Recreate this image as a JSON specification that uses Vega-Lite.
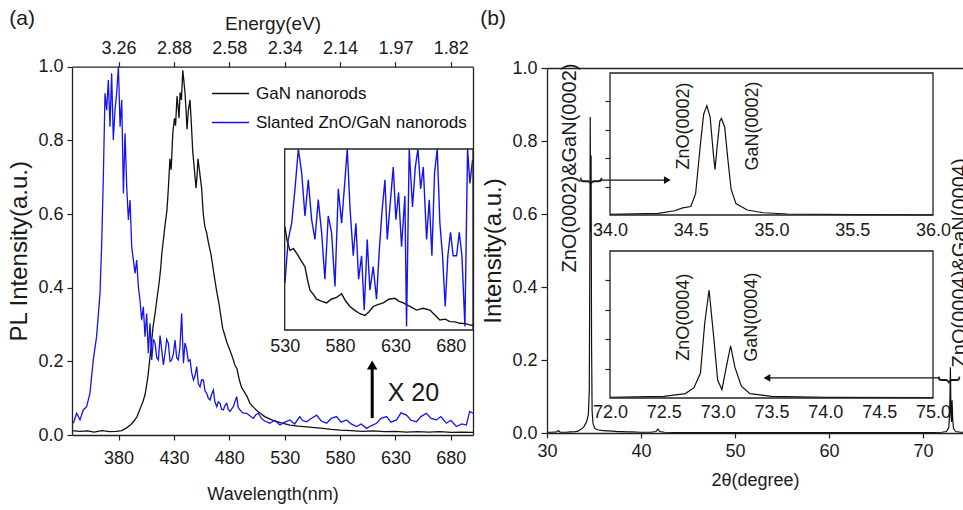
{
"$schema":"https://vega.github.io/schema/vega-lite/v6.json",
"width":963,"height":510,"autosize":{"type":"none"},"padding":0,"background":"white",
"config":{"view":{"stroke":null},"font":"Liberation Sans",
 "axis":{"labelFont":"Liberation Sans","titleFont":"Liberation Sans","labelFontSize":18,"titleFontSize":18,"titleFontWeight":"normal","labelColor":"#1a1a1a","titleColor":"#1a1a1a","domainColor":"#222","tickColor":"#222","domainWidth":1.3,"tickWidth":1.2,"grid":false,"tickSize":5,"labelPadding":4,"labelFlush":false,"labelOverlap":false},
 "text":{"font":"Liberation Sans","color":"#1a1a1a"}},
"datasets":{
"one":[{}],
"pla":[
{"s":"GaN nanorods","wl":338,"pl":0.012},{"s":"GaN nanorods","wl":345,"pl":0.01},{"s":"GaN nanorods","wl":352,"pl":0.011},{"s":"GaN nanorods","wl":358,"pl":0.008},{"s":"GaN nanorods","wl":365,"pl":0.012},{"s":"GaN nanorods","wl":372,"pl":0.009},{"s":"GaN nanorods","wl":378,"pl":0.01},{"s":"GaN nanorods","wl":383,"pl":0.012},{"s":"GaN nanorods","wl":387.6,"pl":0.02},{"s":"GaN nanorods","wl":391,"pl":0.028},{"s":"GaN nanorods","wl":394,"pl":0.038},{"s":"GaN nanorods","wl":396.7,"pl":0.05},{"s":"GaN nanorods","wl":400,"pl":0.075},{"s":"GaN nanorods","wl":402,"pl":0.09},{"s":"GaN nanorods","wl":404,"pl":0.11},{"s":"GaN nanorods","wl":406.6,"pl":0.16},{"s":"GaN nanorods","wl":408,"pl":0.2},{"s":"GaN nanorods","wl":409.5,"pl":0.24},{"s":"GaN nanorods","wl":411,"pl":0.29},{"s":"GaN nanorods","wl":413,"pl":0.33},{"s":"GaN nanorods","wl":414.7,"pl":0.37},{"s":"GaN nanorods","wl":416.5,"pl":0.41},{"s":"GaN nanorods","wl":418,"pl":0.45},{"s":"GaN nanorods","wl":419,"pl":0.49},{"s":"GaN nanorods","wl":420.5,"pl":0.53},{"s":"GaN nanorods","wl":422,"pl":0.57},{"s":"GaN nanorods","wl":423.7,"pl":0.61},{"s":"GaN nanorods","wl":425,"pl":0.67},{"s":"GaN nanorods","wl":426.4,"pl":0.75},{"s":"GaN nanorods","wl":427.5,"pl":0.72},{"s":"GaN nanorods","wl":429,"pl":0.82},{"s":"GaN nanorods","wl":430.5,"pl":0.86},{"s":"GaN nanorods","wl":431.5,"pl":0.84},{"s":"GaN nanorods","wl":432.8,"pl":0.92},{"s":"GaN nanorods","wl":433.8,"pl":0.89},{"s":"GaN nanorods","wl":434.6,"pl":0.86},{"s":"GaN nanorods","wl":435.6,"pl":0.93},{"s":"GaN nanorods","wl":436.8,"pl":0.91},{"s":"GaN nanorods","wl":438,"pl":0.99},{"s":"GaN nanorods","wl":439,"pl":0.96},{"s":"GaN nanorods","wl":440,"pl":0.93},{"s":"GaN nanorods","wl":441,"pl":0.88},{"s":"GaN nanorods","wl":441.8,"pl":0.83},{"s":"GaN nanorods","wl":443,"pl":0.88},{"s":"GaN nanorods","wl":444.5,"pl":0.91},{"s":"GaN nanorods","wl":445.5,"pl":0.86},{"s":"GaN nanorods","wl":447,"pl":0.77},{"s":"GaN nanorods","wl":448.5,"pl":0.72},{"s":"GaN nanorods","wl":450,"pl":0.67},{"s":"GaN nanorods","wl":451,"pl":0.71},{"s":"GaN nanorods","wl":451.7,"pl":0.75},{"s":"GaN nanorods","wl":453,"pl":0.72},{"s":"GaN nanorods","wl":455,"pl":0.67},{"s":"GaN nanorods","wl":456.5,"pl":0.6},{"s":"GaN nanorods","wl":458,"pl":0.565},{"s":"GaN nanorods","wl":459.5,"pl":0.55},{"s":"GaN nanorods","wl":460.7,"pl":0.53},{"s":"GaN nanorods","wl":462,"pl":0.51},{"s":"GaN nanorods","wl":463.5,"pl":0.49},{"s":"GaN nanorods","wl":465,"pl":0.46},{"s":"GaN nanorods","wl":467,"pl":0.42},{"s":"GaN nanorods","wl":468.9,"pl":0.385},{"s":"GaN nanorods","wl":470.5,"pl":0.36},{"s":"GaN nanorods","wl":472,"pl":0.33},{"s":"GaN nanorods","wl":474,"pl":0.29},{"s":"GaN nanorods","wl":476,"pl":0.27},{"s":"GaN nanorods","wl":478,"pl":0.25},{"s":"GaN nanorods","wl":480.6,"pl":0.23},{"s":"GaN nanorods","wl":483,"pl":0.21},{"s":"GaN nanorods","wl":485,"pl":0.19},{"s":"GaN nanorods","wl":486.9,"pl":0.18},{"s":"GaN nanorods","wl":489,"pl":0.15},{"s":"GaN nanorods","wl":491,"pl":0.13},{"s":"GaN nanorods","wl":493,"pl":0.12},{"s":"GaN nanorods","wl":496,"pl":0.105},{"s":"GaN nanorods","wl":498.6,"pl":0.086},{"s":"GaN nanorods","wl":502,"pl":0.075},{"s":"GaN nanorods","wl":505,"pl":0.066},{"s":"GaN nanorods","wl":507.7,"pl":0.06},{"s":"GaN nanorods","wl":512,"pl":0.05},{"s":"GaN nanorods","wl":519.4,"pl":0.04},{"s":"GaN nanorods","wl":527,"pl":0.033},{"s":"GaN nanorods","wl":534.7,"pl":0.027},{"s":"GaN nanorods","wl":542,"pl":0.024},{"s":"GaN nanorods","wl":550,"pl":0.022},{"s":"GaN nanorods","wl":557,"pl":0.02},{"s":"GaN nanorods","wl":564.5,"pl":0.018},{"s":"GaN nanorods","wl":572,"pl":0.015},{"s":"GaN nanorods","wl":580,"pl":0.013},{"s":"GaN nanorods","wl":590,"pl":0.012},{"s":"GaN nanorods","wl":600,"pl":0.01},{"s":"GaN nanorods","wl":610,"pl":0.011},{"s":"GaN nanorods","wl":620,"pl":0.009},{"s":"GaN nanorods","wl":630,"pl":0.01},{"s":"GaN nanorods","wl":640,"pl":0.008},{"s":"GaN nanorods","wl":650,"pl":0.009},{"s":"GaN nanorods","wl":660,"pl":0.008},{"s":"GaN nanorods","wl":670,"pl":0.009},{"s":"GaN nanorods","wl":680,"pl":0.007},{"s":"GaN nanorods","wl":690,"pl":0.008},{"s":"GaN nanorods","wl":700,"pl":0.007},
{"s":"Slanted ZnO/GaN nanorods","wl":339.2,"pl":0.032},{"s":"Slanted ZnO/GaN nanorods","wl":342.2,"pl":0.059},{"s":"Slanted ZnO/GaN nanorods","wl":345.2,"pl":0.041},{"s":"Slanted ZnO/GaN nanorods","wl":348.2,"pl":0.068},{"s":"Slanted ZnO/GaN nanorods","wl":351.2,"pl":0.077},{"s":"Slanted ZnO/GaN nanorods","wl":354.2,"pl":0.113},{"s":"Slanted ZnO/GaN nanorods","wl":357.2,"pl":0.204},{"s":"Slanted ZnO/GaN nanorods","wl":360.2,"pl":0.267},{"s":"Slanted ZnO/GaN nanorods","wl":363.3,"pl":0.385},{"s":"Slanted ZnO/GaN nanorods","wl":364.8,"pl":0.52},{"s":"Slanted ZnO/GaN nanorods","wl":366.3,"pl":0.7},{"s":"Slanted ZnO/GaN nanorods","wl":367.8,"pl":0.928},{"s":"Slanted ZnO/GaN nanorods","wl":369.3,"pl":0.882},{"s":"Slanted ZnO/GaN nanorods","wl":370.8,"pl":0.964},{"s":"Slanted ZnO/GaN nanorods","wl":372.3,"pl":0.837},{"s":"Slanted ZnO/GaN nanorods","wl":373.8,"pl":0.982},{"s":"Slanted ZnO/GaN nanorods","wl":375.3,"pl":0.801},{"s":"Slanted ZnO/GaN nanorods","wl":376.8,"pl":0.882},{"s":"Slanted ZnO/GaN nanorods","wl":378.3,"pl":0.928},{"s":"Slanted ZnO/GaN nanorods","wl":379.9,"pl":1.0},{"s":"Slanted ZnO/GaN nanorods","wl":381.4,"pl":0.837},{"s":"Slanted ZnO/GaN nanorods","wl":382.9,"pl":0.91},{"s":"Slanted ZnO/GaN nanorods","wl":384.4,"pl":0.656},{"s":"Slanted ZnO/GaN nanorods","wl":385.9,"pl":0.819},{"s":"Slanted ZnO/GaN nanorods","wl":387.4,"pl":0.674},{"s":"Slanted ZnO/GaN nanorods","wl":388.9,"pl":0.584},{"s":"Slanted ZnO/GaN nanorods","wl":390.4,"pl":0.638},{"s":"Slanted ZnO/GaN nanorods","wl":391.9,"pl":0.511},{"s":"Slanted ZnO/GaN nanorods","wl":393.4,"pl":0.475},{"s":"Slanted ZnO/GaN nanorods","wl":394.9,"pl":0.439},{"s":"Slanted ZnO/GaN nanorods","wl":396.4,"pl":0.475},{"s":"Slanted ZnO/GaN nanorods","wl":397.9,"pl":0.403},{"s":"Slanted ZnO/GaN nanorods","wl":399.4,"pl":0.366},{"s":"Slanted ZnO/GaN nanorods","wl":400.9,"pl":0.312},{"s":"Slanted ZnO/GaN nanorods","wl":402.4,"pl":0.348},{"s":"Slanted ZnO/GaN nanorods","wl":403.9,"pl":0.267},{"s":"Slanted ZnO/GaN nanorods","wl":405.4,"pl":0.33},{"s":"Slanted ZnO/GaN nanorods","wl":406.9,"pl":0.222},{"s":"Slanted ZnO/GaN nanorods","wl":408.4,"pl":0.303},{"s":"Slanted ZnO/GaN nanorods","wl":410,"pl":0.204},{"s":"Slanted ZnO/GaN nanorods","wl":411.5,"pl":0.26},{"s":"Slanted ZnO/GaN nanorods","wl":413,"pl":0.249},{"s":"Slanted ZnO/GaN nanorods","wl":414.5,"pl":0.21},{"s":"Slanted ZnO/GaN nanorods","wl":416,"pl":0.204},{"s":"Slanted ZnO/GaN nanorods","wl":417.5,"pl":0.27},{"s":"Slanted ZnO/GaN nanorods","wl":419,"pl":0.231},{"s":"Slanted ZnO/GaN nanorods","wl":420.5,"pl":0.19},{"s":"Slanted ZnO/GaN nanorods","wl":422,"pl":0.222},{"s":"Slanted ZnO/GaN nanorods","wl":423.5,"pl":0.26},{"s":"Slanted ZnO/GaN nanorods","wl":425,"pl":0.249},{"s":"Slanted ZnO/GaN nanorods","wl":426.5,"pl":0.2},{"s":"Slanted ZnO/GaN nanorods","wl":428,"pl":0.204},{"s":"Slanted ZnO/GaN nanorods","wl":429.5,"pl":0.22},{"s":"Slanted ZnO/GaN nanorods","wl":431,"pl":0.258},{"s":"Slanted ZnO/GaN nanorods","wl":432.5,"pl":0.21},{"s":"Slanted ZnO/GaN nanorods","wl":434,"pl":0.204},{"s":"Slanted ZnO/GaN nanorods","wl":435.5,"pl":0.24},{"s":"Slanted ZnO/GaN nanorods","wl":437,"pl":0.33},{"s":"Slanted ZnO/GaN nanorods","wl":438.6,"pl":0.195},{"s":"Slanted ZnO/GaN nanorods","wl":440,"pl":0.25},{"s":"Slanted ZnO/GaN nanorods","wl":441.6,"pl":0.231},{"s":"Slanted ZnO/GaN nanorods","wl":443,"pl":0.2},{"s":"Slanted ZnO/GaN nanorods","wl":444.6,"pl":0.204},{"s":"Slanted ZnO/GaN nanorods","wl":446,"pl":0.17},{"s":"Slanted ZnO/GaN nanorods","wl":447.6,"pl":0.149},{"s":"Slanted ZnO/GaN nanorods","wl":449,"pl":0.16},{"s":"Slanted ZnO/GaN nanorods","wl":450.6,"pl":0.186},{"s":"Slanted ZnO/GaN nanorods","wl":452,"pl":0.14},{"s":"Slanted ZnO/GaN nanorods","wl":453.6,"pl":0.131},{"s":"Slanted ZnO/GaN nanorods","wl":455,"pl":0.15},{"s":"Slanted ZnO/GaN nanorods","wl":456.6,"pl":0.149},{"s":"Slanted ZnO/GaN nanorods","wl":458,"pl":0.12},{"s":"Slanted ZnO/GaN nanorods","wl":459.6,"pl":0.113},{"s":"Slanted ZnO/GaN nanorods","wl":461,"pl":0.1},{"s":"Slanted ZnO/GaN nanorods","wl":462.6,"pl":0.095},{"s":"Slanted ZnO/GaN nanorods","wl":464,"pl":0.11},{"s":"Slanted ZnO/GaN nanorods","wl":465.6,"pl":0.122},{"s":"Slanted ZnO/GaN nanorods","wl":467,"pl":0.09},{"s":"Slanted ZnO/GaN nanorods","wl":468.7,"pl":0.077},{"s":"Slanted ZnO/GaN nanorods","wl":470,"pl":0.09},{"s":"Slanted ZnO/GaN nanorods","wl":471.7,"pl":0.086},{"s":"Slanted ZnO/GaN nanorods","wl":473,"pl":0.07},{"s":"Slanted ZnO/GaN nanorods","wl":474.7,"pl":0.068},{"s":"Slanted ZnO/GaN nanorods","wl":476,"pl":0.08},{"s":"Slanted ZnO/GaN nanorods","wl":477.7,"pl":0.086},{"s":"Slanted ZnO/GaN nanorods","wl":479,"pl":0.07},{"s":"Slanted ZnO/GaN nanorods","wl":480.7,"pl":0.064},{"s":"Slanted ZnO/GaN nanorods","wl":482,"pl":0.07},{"s":"Slanted ZnO/GaN nanorods","wl":483.7,"pl":0.077},{"s":"Slanted ZnO/GaN nanorods","wl":485,"pl":0.09},{"s":"Slanted ZnO/GaN nanorods","wl":486.7,"pl":0.104},{"s":"Slanted ZnO/GaN nanorods","wl":488,"pl":0.075},{"s":"Slanted ZnO/GaN nanorods","wl":489.7,"pl":0.068},{"s":"Slanted ZnO/GaN nanorods","wl":492,"pl":0.06},{"s":"Slanted ZnO/GaN nanorods","wl":495.7,"pl":0.059},{"s":"Slanted ZnO/GaN nanorods","wl":498.6,"pl":0.052},{"s":"Slanted ZnO/GaN nanorods","wl":501.7,"pl":0.045},{"s":"Slanted ZnO/GaN nanorods","wl":504,"pl":0.055},{"s":"Slanted ZnO/GaN nanorods","wl":506.2,"pl":0.059},{"s":"Slanted ZnO/GaN nanorods","wl":509,"pl":0.045},{"s":"Slanted ZnO/GaN nanorods","wl":512,"pl":0.038},{"s":"Slanted ZnO/GaN nanorods","wl":516.7,"pl":0.032},{"s":"Slanted ZnO/GaN nanorods","wl":521,"pl":0.04},{"s":"Slanted ZnO/GaN nanorods","wl":525.7,"pl":0.027},{"s":"Slanted ZnO/GaN nanorods","wl":530,"pl":0.035},{"s":"Slanted ZnO/GaN nanorods","wl":534.7,"pl":0.041},{"s":"Slanted ZnO/GaN nanorods","wl":539,"pl":0.03},{"s":"Slanted ZnO/GaN nanorods","wl":543.7,"pl":0.05},{"s":"Slanted ZnO/GaN nanorods","wl":546,"pl":0.04},{"s":"Slanted ZnO/GaN nanorods","wl":549.8,"pl":0.036},{"s":"Slanted ZnO/GaN nanorods","wl":554,"pl":0.045},{"s":"Slanted ZnO/GaN nanorods","wl":558.8,"pl":0.054},{"s":"Slanted ZnO/GaN nanorods","wl":563,"pl":0.038},{"s":"Slanted ZnO/GaN nanorods","wl":567.8,"pl":0.032},{"s":"Slanted ZnO/GaN nanorods","wl":572,"pl":0.045},{"s":"Slanted ZnO/GaN nanorods","wl":576.8,"pl":0.05},{"s":"Slanted ZnO/GaN nanorods","wl":581,"pl":0.035},{"s":"Slanted ZnO/GaN nanorods","wl":585.9,"pl":0.041},{"s":"Slanted ZnO/GaN nanorods","wl":590,"pl":0.03},{"s":"Slanted ZnO/GaN nanorods","wl":594.9,"pl":0.023},{"s":"Slanted ZnO/GaN nanorods","wl":599,"pl":0.03},{"s":"Slanted ZnO/GaN nanorods","wl":603.9,"pl":0.018},{"s":"Slanted ZnO/GaN nanorods","wl":608,"pl":0.025},{"s":"Slanted ZnO/GaN nanorods","wl":612.9,"pl":0.032},{"s":"Slanted ZnO/GaN nanorods","wl":617,"pl":0.045},{"s":"Slanted ZnO/GaN nanorods","wl":622,"pl":0.05},{"s":"Slanted ZnO/GaN nanorods","wl":626,"pl":0.035},{"s":"Slanted ZnO/GaN nanorods","wl":631,"pl":0.041},{"s":"Slanted ZnO/GaN nanorods","wl":635,"pl":0.06},{"s":"Slanted ZnO/GaN nanorods","wl":640,"pl":0.054},{"s":"Slanted ZnO/GaN nanorods","wl":644,"pl":0.04},{"s":"Slanted ZnO/GaN nanorods","wl":649,"pl":0.036},{"s":"Slanted ZnO/GaN nanorods","wl":653,"pl":0.05},{"s":"Slanted ZnO/GaN nanorods","wl":658,"pl":0.059},{"s":"Slanted ZnO/GaN nanorods","wl":662,"pl":0.045},{"s":"Slanted ZnO/GaN nanorods","wl":667,"pl":0.041},{"s":"Slanted ZnO/GaN nanorods","wl":671,"pl":0.05},{"s":"Slanted ZnO/GaN nanorods","wl":676,"pl":0.032},{"s":"Slanted ZnO/GaN nanorods","wl":680,"pl":0.04},{"s":"Slanted ZnO/GaN nanorods","wl":685,"pl":0.023},{"s":"Slanted ZnO/GaN nanorods","wl":690,"pl":0.03},{"s":"Slanted ZnO/GaN nanorods","wl":694,"pl":0.027},{"s":"Slanted ZnO/GaN nanorods","wl":697,"pl":0.064},{"s":"Slanted ZnO/GaN nanorods","wl":700,"pl":0.059}
],
"plai":[
{"s":"GaN nanorods","wl":530.2,"f":0.57},{"s":"GaN nanorods","wl":532,"f":0.5},{"s":"GaN nanorods","wl":534.7,"f":0.44},{"s":"GaN nanorods","wl":538,"f":0.45},{"s":"GaN nanorods","wl":542.3,"f":0.41},{"s":"GaN nanorods","wl":545,"f":0.38},{"s":"GaN nanorods","wl":548.3,"f":0.35},{"s":"GaN nanorods","wl":550.5,"f":0.28},{"s":"GaN nanorods","wl":552.8,"f":0.22},{"s":"GaN nanorods","wl":555.5,"f":0.2},{"s":"GaN nanorods","wl":558.8,"f":0.17},{"s":"GaN nanorods","wl":563,"f":0.16},{"s":"GaN nanorods","wl":567.8,"f":0.15},{"s":"GaN nanorods","wl":572,"f":0.17},{"s":"GaN nanorods","wl":576.9,"f":0.18},{"s":"GaN nanorods","wl":581.4,"f":0.2},{"s":"GaN nanorods","wl":585,"f":0.16},{"s":"GaN nanorods","wl":588.9,"f":0.13},{"s":"GaN nanorods","wl":593,"f":0.11},{"s":"GaN nanorods","wl":597.9,"f":0.09},{"s":"GaN nanorods","wl":602.4,"f":0.08},{"s":"GaN nanorods","wl":606,"f":0.1},{"s":"GaN nanorods","wl":609.9,"f":0.13},{"s":"GaN nanorods","wl":614,"f":0.14},{"s":"GaN nanorods","wl":619,"f":0.15},{"s":"GaN nanorods","wl":624,"f":0.17},{"s":"GaN nanorods","wl":629.5,"f":0.175},{"s":"GaN nanorods","wl":633,"f":0.16},{"s":"GaN nanorods","wl":637,"f":0.15},{"s":"GaN nanorods","wl":643,"f":0.13},{"s":"GaN nanorods","wl":649,"f":0.11},{"s":"GaN nanorods","wl":655,"f":0.12},{"s":"GaN nanorods","wl":661.1,"f":0.11},{"s":"GaN nanorods","wl":666,"f":0.08},{"s":"GaN nanorods","wl":670.1,"f":0.055},{"s":"GaN nanorods","wl":675,"f":0.06},{"s":"GaN nanorods","wl":679.1,"f":0.046},{"s":"GaN nanorods","wl":684,"f":0.045},{"s":"GaN nanorods","wl":688.2,"f":0.037},{"s":"GaN nanorods","wl":693,"f":0.035},{"s":"GaN nanorods","wl":697.2,"f":0.028},{"s":"GaN nanorods","wl":700,"f":0.025},
{"s":"Slanted ZnO/GaN nanorods","wl":530.2,"f":0.26},{"s":"Slanted ZnO/GaN nanorods","wl":533.2,"f":0.5},{"s":"Slanted ZnO/GaN nanorods","wl":536.3,"f":0.59},{"s":"Slanted ZnO/GaN nanorods","wl":539.3,"f":0.78},{"s":"Slanted ZnO/GaN nanorods","wl":542.3,"f":1.0},{"s":"Slanted ZnO/GaN nanorods","wl":545.3,"f":0.87},{"s":"Slanted ZnO/GaN nanorods","wl":548.3,"f":0.63},{"s":"Slanted ZnO/GaN nanorods","wl":551.3,"f":0.83},{"s":"Slanted ZnO/GaN nanorods","wl":554.3,"f":0.61},{"s":"Slanted ZnO/GaN nanorods","wl":557.3,"f":0.5},{"s":"Slanted ZnO/GaN nanorods","wl":560.3,"f":0.72},{"s":"Slanted ZnO/GaN nanorods","wl":563.3,"f":0.54},{"s":"Slanted ZnO/GaN nanorods","wl":566.3,"f":0.28},{"s":"Slanted ZnO/GaN nanorods","wl":569.3,"f":0.63},{"s":"Slanted ZnO/GaN nanorods","wl":572.3,"f":0.54},{"s":"Slanted ZnO/GaN nanorods","wl":575.4,"f":0.24},{"s":"Slanted ZnO/GaN nanorods","wl":578.4,"f":0.78},{"s":"Slanted ZnO/GaN nanorods","wl":581.4,"f":0.59},{"s":"Slanted ZnO/GaN nanorods","wl":584.4,"f":0.83},{"s":"Slanted ZnO/GaN nanorods","wl":586.5,"f":1.0},{"s":"Slanted ZnO/GaN nanorods","wl":588.9,"f":0.68},{"s":"Slanted ZnO/GaN nanorods","wl":591.9,"f":0.41},{"s":"Slanted ZnO/GaN nanorods","wl":594.3,"f":0.59},{"s":"Slanted ZnO/GaN nanorods","wl":596.7,"f":0.28},{"s":"Slanted ZnO/GaN nanorods","wl":599.4,"f":0.41},{"s":"Slanted ZnO/GaN nanorods","wl":601.8,"f":0.11},{"s":"Slanted ZnO/GaN nanorods","wl":604.5,"f":0.5},{"s":"Slanted ZnO/GaN nanorods","wl":606.9,"f":0.22},{"s":"Slanted ZnO/GaN nanorods","wl":609.9,"f":0.35},{"s":"Slanted ZnO/GaN nanorods","wl":612.9,"f":0.17},{"s":"Slanted ZnO/GaN nanorods","wl":615.4,"f":0.44},{"s":"Slanted ZnO/GaN nanorods","wl":617.8,"f":0.65},{"s":"Slanted ZnO/GaN nanorods","wl":620.5,"f":0.83},{"s":"Slanted ZnO/GaN nanorods","wl":622.6,"f":0.5},{"s":"Slanted ZnO/GaN nanorods","wl":625,"f":0.68},{"s":"Slanted ZnO/GaN nanorods","wl":628,"f":0.9},{"s":"Slanted ZnO/GaN nanorods","wl":630.4,"f":0.61},{"s":"Slanted ZnO/GaN nanorods","wl":632.8,"f":0.76},{"s":"Slanted ZnO/GaN nanorods","wl":635.5,"f":0.46},{"s":"Slanted ZnO/GaN nanorods","wl":638.5,"f":0.74},{"s":"Slanted ZnO/GaN nanorods","wl":640,"f":0.02},{"s":"Slanted ZnO/GaN nanorods","wl":642.4,"f":1.0},{"s":"Slanted ZnO/GaN nanorods","wl":645.4,"f":0.68},{"s":"Slanted ZnO/GaN nanorods","wl":647.9,"f":0.9},{"s":"Slanted ZnO/GaN nanorods","wl":650.3,"f":1.0},{"s":"Slanted ZnO/GaN nanorods","wl":652.7,"f":0.78},{"s":"Slanted ZnO/GaN nanorods","wl":655.1,"f":0.9},{"s":"Slanted ZnO/GaN nanorods","wl":658.1,"f":0.5},{"s":"Slanted ZnO/GaN nanorods","wl":660.5,"f":0.72},{"s":"Slanted ZnO/GaN nanorods","wl":662.9,"f":0.41},{"s":"Slanted ZnO/GaN nanorods","wl":665.3,"f":0.87},{"s":"Slanted ZnO/GaN nanorods","wl":667.7,"f":1.0},{"s":"Slanted ZnO/GaN nanorods","wl":670.1,"f":0.59},{"s":"Slanted ZnO/GaN nanorods","wl":672.5,"f":0.41},{"s":"Slanted ZnO/GaN nanorods","wl":674.9,"f":0.13},{"s":"Slanted ZnO/GaN nanorods","wl":677.3,"f":0.41},{"s":"Slanted ZnO/GaN nanorods","wl":679.7,"f":0.54},{"s":"Slanted ZnO/GaN nanorods","wl":682.1,"f":0.41},{"s":"Slanted ZnO/GaN nanorods","wl":685.2,"f":0.41},{"s":"Slanted ZnO/GaN nanorods","wl":687.6,"f":0.54},{"s":"Slanted ZnO/GaN nanorods","wl":690,"f":0.41},{"s":"Slanted ZnO/GaN nanorods","wl":692.7,"f":0.02},{"s":"Slanted ZnO/GaN nanorods","wl":695.1,"f":1.0},{"s":"Slanted ZnO/GaN nanorods","wl":697.2,"f":0.81},{"s":"Slanted ZnO/GaN nanorods","wl":699.6,"f":0.94}
],
"xrd":[
{"tt":30,"I":0.002},{"tt":30.5,"I":0.002},{"tt":31,"I":0.003},{"tt":31.2,"I":0.007},{"tt":31.4,"I":0.002},{"tt":32,"I":0.002},{"tt":32.5,"I":0.003},{"tt":33,"I":0.004},{"tt":33.3,"I":0.005},{"tt":33.6,"I":0.01},{"tt":33.9,"I":0.016},{"tt":34.2,"I":0.03},{"tt":34.4,"I":0.05},{"tt":34.5,"I":0.12},{"tt":34.56,"I":0.5},{"tt":34.6,"I":0.866},{"tt":34.64,"I":0.55},{"tt":34.69,"I":0.76},{"tt":34.74,"I":0.25},{"tt":34.8,"I":0.06},{"tt":34.9,"I":0.025},{"tt":35.1,"I":0.012},{"tt":35.4,"I":0.009},{"tt":35.8,"I":0.007},{"tt":36.3,"I":0.006},{"tt":37,"I":0.005},{"tt":37.5,"I":0.004},{"tt":38,"I":0.004},{"tt":38.5,"I":0.003},{"tt":39,"I":0.003},{"tt":40,"I":0.002},{"tt":41,"I":0.002},{"tt":41.6,"I":0.004},{"tt":41.8,"I":0.011},{"tt":42,"I":0.004},{"tt":42.5,"I":0.002},{"tt":45,"I":0.001},{"tt":50,"I":0.001},{"tt":55,"I":0.001},{"tt":60,"I":0.001},{"tt":65,"I":0.001},{"tt":70,"I":0.001},{"tt":72,"I":0.002},{"tt":72.5,"I":0.004},{"tt":72.75,"I":0.015},{"tt":72.85,"I":0.06},{"tt":72.92,"I":0.18},{"tt":72.98,"I":0.05},{"tt":73.04,"I":0.03},{"tt":73.1,"I":0.09},{"tt":73.16,"I":0.04},{"tt":73.25,"I":0.012},{"tt":73.5,"I":0.004},{"tt":74,"I":0.002},{"tt":74.26,"I":0.002}
],
"b1":[
{"tt":34.0,"f":0.005},{"tt":34.15,"f":0.008},{"tt":34.3,"f":0.012},{"tt":34.4,"f":0.03},{"tt":34.45,"f":0.05},{"tt":34.5,"f":0.06},{"tt":34.53,"f":0.15},{"tt":34.56,"f":0.5},{"tt":34.58,"f":0.71},{"tt":34.6,"f":0.77},{"tt":34.62,"f":0.69},{"tt":34.64,"f":0.43},{"tt":34.65,"f":0.32},{"tt":34.665,"f":0.5},{"tt":34.68,"f":0.66},{"tt":34.69,"f":0.68},{"tt":34.71,"f":0.62},{"tt":34.73,"f":0.39},{"tt":34.75,"f":0.18},{"tt":34.78,"f":0.08},{"tt":34.85,"f":0.035},{"tt":34.95,"f":0.016},{"tt":35.1,"f":0.007},{"tt":35.5,"f":0.002},{"tt":36.0,"f":0.001}
],
"b2":[
{"tt":72.0,"f":0.005},{"tt":72.25,"f":0.007},{"tt":72.5,"f":0.011},{"tt":72.7,"f":0.03},{"tt":72.78,"f":0.07},{"tt":72.84,"f":0.17},{"tt":72.88,"f":0.51},{"tt":72.92,"f":0.735},{"tt":72.96,"f":0.44},{"tt":73.0,"f":0.12},{"tt":73.04,"f":0.057},{"tt":73.08,"f":0.21},{"tt":73.12,"f":0.355},{"tt":73.16,"f":0.21},{"tt":73.22,"f":0.08},{"tt":73.3,"f":0.03},{"tt":73.5,"f":0.011},{"tt":74.0,"f":0.004},{"tt":75.0,"f":0.002}
]
},
"layer":[
{"data":{"name":"one"},"mark":{"type":"point","opacity":0},"encoding":{
  "x":{"datum":380,"type":"quantitative","scale":{"domain":[338,700],"range":[72,473],"nice":false,"zero":false},"axis":{"orient":"bottom","offset":-75,"values":[380,430,480,530,580,630,680],"title":"Wavelength(nm)","labelPadding":9,"titlePadding":18}},
  "y":{"datum":0,"type":"quantitative","scale":{"domain":[0,1],"range":[435,66.7],"nice":false,"zero":false},"axis":{"orient":"left","offset":-72,"values":[0,0.2,0.4,0.6,0.8,1],"format":".1f","title":"PL Intensity(a.u.)","titleFontSize":24,"titlePadding":6}}}},
{"data":{"name":"one"},"mark":{"type":"point","opacity":0},"encoding":{
  "x":{"datum":380,"type":"quantitative","scale":{"domain":[338,700],"range":[72,473],"nice":false,"zero":false},"axis":{"orient":"top","offset":-66.7,"values":[380,430,480,530,580,630,680],"labelExpr":"format(1240/datum.value,'.2f')","title":"Energy(eV)","titleFontSize":19,"labelPadding":4,"titlePadding":6}},
  "y":{"datum":0,"type":"quantitative","scale":{"domain":[0,1],"range":[435,66.7],"nice":false,"zero":false},"axis":{"orient":"right","offset":-490,"ticks":false,"labels":false,"title":null}}}},
{"layer":[
 {"data":{"name":"pla"},"mark":{"type":"line","strokeWidth":1.3},
  "encoding":{
   "x":{"field":"wl","type":"quantitative","scale":{"domain":[338,700],"range":[72,473],"nice":false,"zero":false},"axis":null},
   "y":{"field":"pl","type":"quantitative","scale":{"domain":[0,1],"range":[435,66.7],"nice":false,"zero":false},"axis":null},
   "color":{"field":"s","type":"nominal","scale":{"domain":["GaN nanorods","Slanted ZnO/GaN nanorods"],"range":["#111111","#1414f0"]},"legend":{"orient":"none","legendX":211,"legendY":74,"title":null,"symbolType":"stroke","symbolSize":1369,"symbolStrokeWidth":1.5,"labelFontSize":17,"labelFont":"Liberation Sans","labelColor":"#111","labelLimit":400,"rowPadding":1,"labelOffset":6}}}},
 {"data":{"name":"one"},"mark":{"type":"rule","strokeWidth":3,"color":"black"},"encoding":{"x":{"datum":609,"axis":null},"y":{"datum":0.046,"axis":null},"y2":{"datum":0.18}}},
 {"data":{"name":"one"},"mark":{"type":"point","shape":"triangle-up","filled":true,"size":110,"color":"black","opacity":1},"encoding":{"x":{"datum":609,"axis":null},"y":{"datum":0.19,"axis":null}}},
 {"data":{"name":"one"},"mark":{"type":"text","text":"X 20","fontSize":25,"align":"left","baseline":"middle"},"encoding":{"x":{"datum":623,"axis":null},"y":{"datum":0.114,"axis":null}}},
 {"data":{"name":"one"},"mark":{"type":"text","text":"(a)","fontSize":21,"align":"center","baseline":"middle"},"encoding":{"x":{"datum":292.9,"axis":null},"y":{"datum":1.1295,"axis":null}}}
]},
{"data":{"name":"one"},"mark":{"type":"point","opacity":0},"encoding":{
  "x":{"datum":530,"type":"quantitative","scale":{"domain":[530,700],"range":[284.7,473],"nice":false,"zero":false},"axis":{"orient":"bottom","offset":-180,"values":[530,580,630,680],"ticks":false,"domain":false,"title":null,"labelPadding":7}}}},
{"layer":[
 {"data":{"name":"plai"},"mark":{"type":"line","strokeWidth":1.4},"encoding":{
   "x":{"field":"wl","type":"quantitative","scale":{"domain":[530,700],"range":[284.7,473],"nice":false,"zero":false},"axis":null},
   "y":{"field":"f","type":"quantitative","scale":{"domain":[0,1],"range":[330,149],"nice":false,"zero":false},"axis":null},
   "color":{"field":"s","type":"nominal"}}},
 {"data":{"name":"one"},"mark":{"type":"rect","filled":false,"color":"#222","strokeWidth":1.3},"encoding":{"x":{"datum":530,"axis":null},"x2":{"datum":700},"y":{"datum":0,"axis":null},"y2":{"datum":1}}}
]},
{"data":{"name":"one"},"mark":{"type":"point","opacity":0},"encoding":{
  "x":{"datum":30,"type":"quantitative","scale":{"domain":[30,74.26],"range":[547,963],"nice":false,"zero":false},"axis":{"orient":"bottom","offset":-77,"values":[30,40,50,60,70],"title":"2θ(degree)","labelPadding":4,"titlePadding":11}},
  "y":{"datum":0,"type":"quantitative","scale":{"domain":[0,1],"range":[433,68],"nice":false,"zero":false},"axis":{"orient":"left","offset":-547,"values":[0,0.2,0.4,0.6,0.8,1],"format":".1f","title":"Intensity(a.u.)","titleFontSize":24,"tickSize":6,"titlePadding":6}}}},
{"data":{"name":"one"},"mark":{"type":"point","opacity":0},"encoding":{
  "x":{"datum":30,"type":"quantitative","scale":{"domain":[30,74.26],"range":[547,963],"nice":false,"zero":false},"axis":{"orient":"top","offset":-68,"ticks":false,"labels":false,"title":null}}}},
{"layer":[
 {"data":{"name":"xrd"},"mark":{"type":"line","strokeWidth":1.2,"color":"#111"},"encoding":{
   "x":{"field":"tt","type":"quantitative","scale":{"domain":[30,74.26],"range":[547,963],"nice":false,"zero":false},"axis":null},
   "y":{"field":"I","type":"quantitative","scale":{"domain":[0,1],"range":[433,68],"nice":false,"zero":false},"axis":null}}},
 {"data":{"name":"one"},"mark":{"type":"text","text":"ZnO(0002)&GaN(0002)","angle":270,"fontSize":20,"align":"center","baseline":"middle"},"encoding":{"x":{"datum":32.45,"axis":null},"y":{"datum":0.726,"axis":null}}},
 {"data":{"name":"one"},"mark":{"type":"text","text":"ZnO(0004)&GaN(0004)","angle":270,"fontSize":20,"align":"center","baseline":"middle"},"encoding":{"x":{"datum":73.94,"axis":null},"y":{"datum":0.466,"axis":null}}},
 {"data":{"name":"one"},"mark":{"type":"text","text":"{","angle":270,"fontSize":24,"align":"center","baseline":"middle"},"encoding":{"x":{"datum":34.57,"axis":null},"y":{"datum":0.69,"axis":null}}},
 {"data":{"name":"one"},"mark":{"type":"text","text":"{","angle":270,"fontSize":24,"align":"center","baseline":"middle"},"encoding":{"x":{"datum":72.66,"axis":null},"y":{"datum":0.145,"axis":null}}},
 {"data":{"name":"one"},"mark":{"type":"rule","strokeWidth":1.3,"color":"#111"},"encoding":{"x":{"datum":35.6,"axis":null},"x2":{"datum":42.6},"y":{"datum":0.693,"axis":null}}},
 {"data":{"name":"one"},"mark":{"type":"point","shape":"triangle-right","filled":true,"size":60,"color":"#111","opacity":1},"encoding":{"x":{"datum":42.8,"axis":null},"y":{"datum":0.693,"axis":null}}},
 {"data":{"name":"one"},"mark":{"type":"rule","strokeWidth":1.3,"color":"#111"},"encoding":{"x":{"datum":71.8,"axis":null},"x2":{"datum":53.6},"y":{"datum":0.151,"axis":null}}},
 {"data":{"name":"one"},"mark":{"type":"point","shape":"triangle-left","filled":true,"size":60,"color":"#111","opacity":1},"encoding":{"x":{"datum":53.4,"axis":null},"y":{"datum":0.151,"axis":null}}},
 {"data":{"name":"one"},"mark":{"type":"text","text":"(b)","fontSize":21,"align":"center","baseline":"middle"},"encoding":{"x":{"datum":24.26,"axis":null},"y":{"datum":1.134,"axis":null}}}
]},
{"data":{"name":"one"},"mark":{"type":"point","opacity":0},"encoding":{
  "x":{"datum":34,"type":"quantitative","scale":{"domain":[34,36],"range":[610,933],"nice":false,"zero":false},"axis":{"orient":"bottom","offset":-295,"values":[34,34.5,35,35.5,36],"format":".1f","ticks":false,"domain":false,"title":null,"labelPadding":6}},
  "y":{"datum":0,"type":"quantitative","scale":{"domain":[0,1],"range":[215,73],"nice":false,"zero":false},"axis":{"orient":"left","offset":-610,"values":[0.2,0.4,0.6,0.8],"labels":false,"domain":false,"title":null,"tickSize":5}}}},
{"layer":[
 {"data":{"name":"b1"},"mark":{"type":"line","strokeWidth":1.2,"color":"#111"},"encoding":{
   "x":{"field":"tt","type":"quantitative","scale":{"domain":[34,36],"range":[610,933],"nice":false,"zero":false},"axis":null},
   "y":{"field":"f","type":"quantitative","scale":{"domain":[0,1],"range":[215,73],"nice":false,"zero":false},"axis":null}}},
 {"data":{"name":"one"},"mark":{"type":"rect","filled":false,"color":"#222","strokeWidth":1.3},"encoding":{"x":{"datum":34,"axis":null},"x2":{"datum":36},"y":{"datum":0,"axis":null},"y2":{"datum":1}}},
 {"data":{"name":"one"},"mark":{"type":"text","text":"ZnO(0002)","angle":270,"fontSize":18,"align":"center","baseline":"middle"},"encoding":{"x":{"datum":34.46,"axis":null},"y":{"datum":0.627,"axis":null}}},
 {"data":{"name":"one"},"mark":{"type":"text","text":"GaN(0002)","angle":270,"fontSize":18,"align":"center","baseline":"middle"},"encoding":{"x":{"datum":34.885,"axis":null},"y":{"datum":0.627,"axis":null}}}
]},
{"data":{"name":"one"},"mark":{"type":"point","opacity":0},"encoding":{
  "x":{"datum":72,"type":"quantitative","scale":{"domain":[72,75],"range":[610,933],"nice":false,"zero":false},"axis":{"orient":"bottom","offset":-112,"values":[72,72.5,73,73.5,74,74.5,75],"format":".1f","ticks":false,"domain":false,"title":null,"labelPadding":5}},
  "y":{"datum":0,"type":"quantitative","scale":{"domain":[0,1],"range":[398,251],"nice":false,"zero":false},"axis":{"orient":"left","offset":-610,"values":[0.2,0.4,0.6,0.8],"labels":false,"domain":false,"title":null,"tickSize":5}}}},
{"layer":[
 {"data":{"name":"b2"},"mark":{"type":"line","strokeWidth":1.2,"color":"#111"},"encoding":{
   "x":{"field":"tt","type":"quantitative","scale":{"domain":[72,75],"range":[610,933],"nice":false,"zero":false},"axis":null},
   "y":{"field":"f","type":"quantitative","scale":{"domain":[0,1],"range":[398,251],"nice":false,"zero":false},"axis":null}}},
 {"data":{"name":"one"},"mark":{"type":"rect","filled":false,"color":"#222","strokeWidth":1.3},"encoding":{"x":{"datum":72,"axis":null},"x2":{"datum":75},"y":{"datum":0,"axis":null},"y2":{"datum":1}}},
 {"data":{"name":"one"},"mark":{"type":"text","text":"ZnO(0004)","angle":270,"fontSize":18,"align":"center","baseline":"middle"},"encoding":{"x":{"datum":72.69,"axis":null},"y":{"datum":0.55,"axis":null}}},
 {"data":{"name":"one"},"mark":{"type":"text","text":"GaN(0004)","angle":270,"fontSize":18,"align":"center","baseline":"middle"},"encoding":{"x":{"datum":73.32,"axis":null},"y":{"datum":0.55,"axis":null}}}
]}
],
"resolve":{"scale":{"x":"independent","y":"independent"},"axis":{"x":"independent","y":"independent"}}
}
